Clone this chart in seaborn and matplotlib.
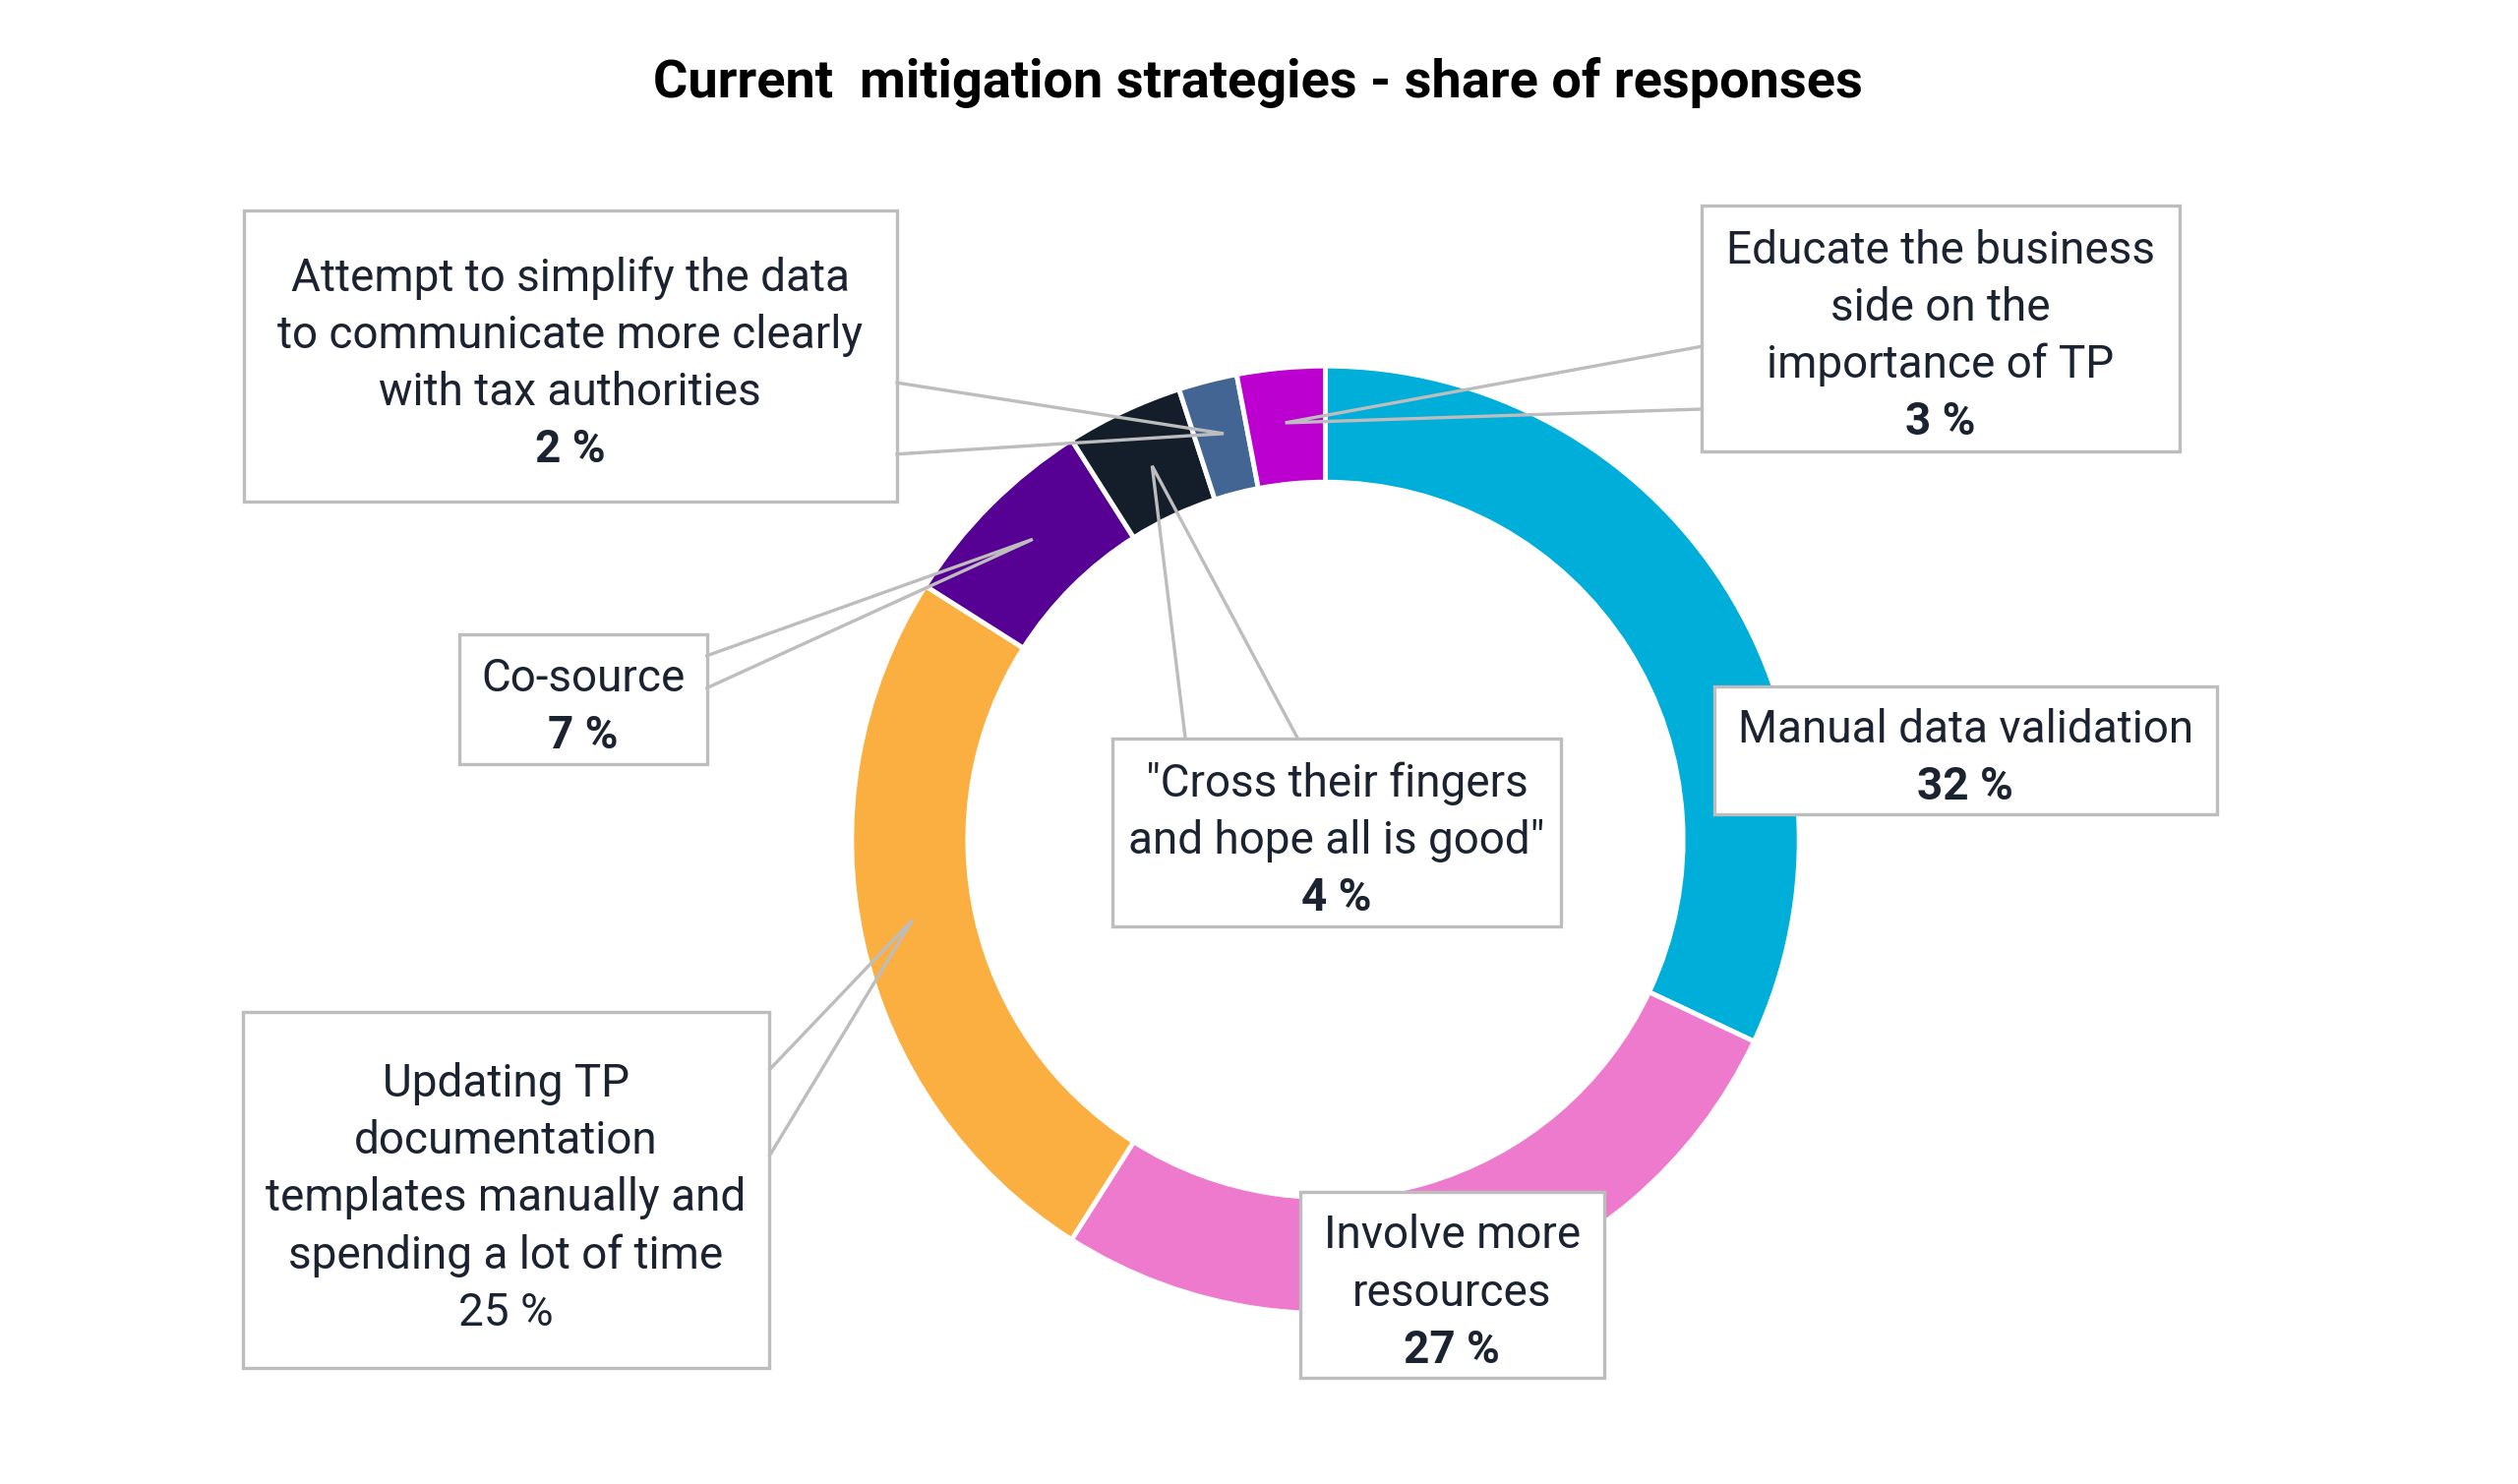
import numpy as np
import pandas as pd
import matplotlib
matplotlib.use("Agg")
import matplotlib.pyplot as plt
import seaborn as sns
from matplotlib.patches import Rectangle

# Data: share of responses, clockwise from 12 o'clock
strategies = [
    "Manual data validation",
    "Involve more resources",
    "Updating TP documentation templates manually and spending a lot of time",
    "Co-source",
    '"Cross their fingers and hope all is good"',
    "Attempt to simplify the data to communicate more clearly with tax authorities",
    "Educate the business side on the importance of TP",
]
shares = [32, 27, 25, 7, 4, 2, 3]
colors = ["#00AEDA", "#EE7ACD", "#FBAF41", "#560094", "#141E2A", "#426594", "#BB00D0"]

# label lines shown in each box (last line is the share)
label_lines = [
    ["Manual data validation"],
    ["Involve more", "resources"],
    ["Updating TP", "documentation", "templates manually and", "spending a lot of time"],
    ["Co-source"],
    ['"Cross their fingers', 'and hope all is good"'],
    ["Attempt to simplify the data", "to communicate more clearly", "with tax authorities"],
    ["Educate the business", "side on the", "importance of TP"],
]
share_bold = [True, True, False, True, True, True, True]

df = pd.DataFrame({"strategy": strategies, "share": shares, "color": colors})

sns.set_theme(style="white")
plt.rcParams["font.family"] = ["Roboto", "DejaVu Sans"]

W, H = 2560, 1509
fig = plt.figure(figsize=(W / 100, H / 100), dpi=100)
ax = fig.add_axes([0, 0, 1, 1])

S = 0.9952  # layout scale

def X(x):
    return x * S

def Y(y):
    # image (top-down) y to axes y
    return H - y * S

cx, cy, r_out = 1354, 858, 484
ax.pie(df["share"], colors=df["color"], startangle=90, counterclock=False,
       center=(X(cx), Y(cy)), radius=r_out * S,
       wedgeprops=dict(width=r_out * S * 0.245, edgecolor="white", linewidth=3.5))
ax.set_xlim(0, W)
ax.set_ylim(0, H)
ax.set_aspect("equal")
ax.axis("off")

ax.text(X(1285), Y(84), "Current  mitigation strategies - share of responses",
        ha="center", va="center", fontsize=39, fontweight="bold", color="black")

# box layout: (x0, y0, x1, y1) in image px, pointer base points and tip
boxes = [
    ((1751, 701, 2265, 832), None),
    ((1328, 1218, 1639, 1408), None),
    ((248, 1034, 786, 1398), [(786, 1093), (786, 1181), (932, 940)]),
    ((469, 648, 722, 781), [(722, 670), (722, 703), (1055, 551)]),
    ((1136, 755, 1595, 947), [(1211, 755), (1326, 755), (1177, 476)]),
    ((249, 215, 916, 512), [(916, 391), (916, 464), (1250, 443)]),
    ((1738, 210, 2227, 461), [(1738, 354), (1738, 418), (1313, 432)]),
]

edge = "#BDBDBD"
txt = "#1B2331"
line_h = 58.5
for (box, ptr), lines, share, bold in zip(boxes, label_lines, shares, share_bold):
    x0, y0, x1, y1 = box
    ax.add_patch(Rectangle((X(x0), Y(y1)), X(x1) - X(x0), Y(y0) - Y(y1),
                           facecolor="white", edgecolor=edge, linewidth=2.4, zorder=5))
    if ptr is not None:
        (ax_, ay_), (bx_, by_), (tx_, ty_) = ptr
        ax.plot([X(ax_), X(tx_), X(bx_)], [Y(ay_), Y(ty_), Y(by_)], color=edge,
                linewidth=2.4, zorder=6, solid_joinstyle="miter")
    all_lines = lines + [f"{share} %"]
    n = len(all_lines)
    mid = (y0 + y1) / 2 + 8
    for i, s in enumerate(all_lines):
        yy = mid + (i - (n - 1) / 2) * line_h
        is_share = i == n - 1
        ax.text(X((x0 + x1) / 2), Y(yy), s, ha="center", va="center",
                fontsize=33, color=txt, zorder=7,
                fontweight="bold" if (is_share and bold) else "normal")

fig.savefig("out.png", dpi=100, facecolor="white")
